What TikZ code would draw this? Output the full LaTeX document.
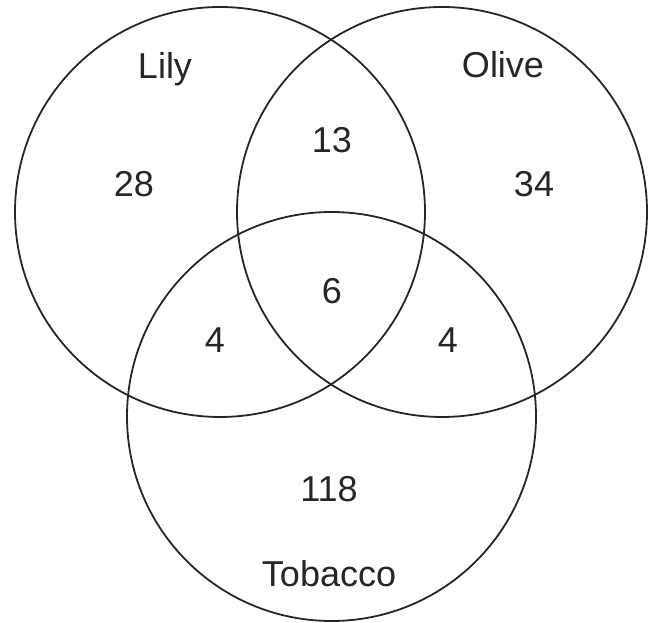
\documentclass[tikz,border=0pt]{standalone}
\usepackage{fontspec}
\setmainfont{Liberation Sans}
\begin{document}
\begin{tikzpicture}[x=1pt,y=1pt,
  setcircle/.style={draw=black!85, line width=1.8pt},
  lbl/.style={anchor=base, inner sep=0pt, font=\fontsize{36}{40}\selectfont, text=black!85}]
\useasboundingbox (0,0) rectangle (650,623);
\draw[setcircle] (220,411) circle (205);
\draw[setcircle] (442,411) circle (205);
\draw[setcircle] (331.5,206.5) circle (204.5);
\node[lbl] (lily) at (165,544) {Lily};
\node[lbl] (olive) at (503,545) {Olive};
\node[lbl] (tobacco) at (329,36) {Tobacco};
\node[lbl] (n28) at (134,426) {28};
\node[lbl] (n13) at (332,470) {13};
\node[lbl] (n34) at (534,426) {34};
\node[lbl] (n6) at (332,319) {6};
\node[lbl] (n4a) at (215,270) {4};
\node[lbl] (n4b) at (448,270) {4};
\node[lbl] (n118) at (329,121) {118};
\end{tikzpicture}
\end{document}
